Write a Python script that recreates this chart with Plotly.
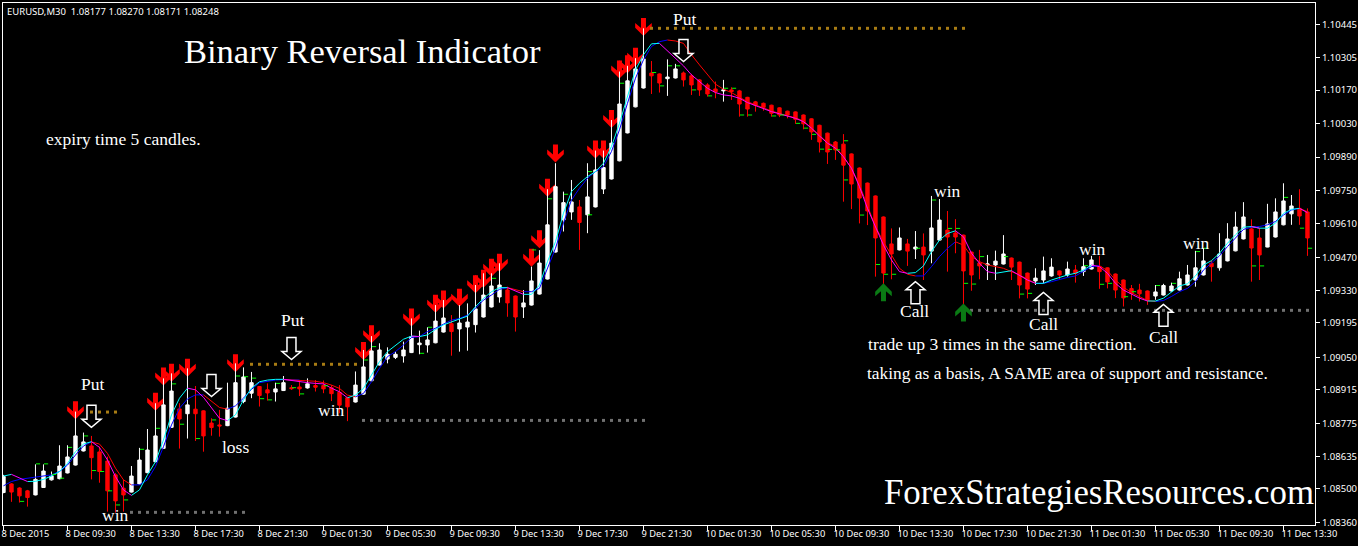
import plotly.graph_objects as go

# EURUSD M30 candles, prices
opens = [1.08485,1.08521,1.08504,1.08492,1.08475,1.08506,1.08538,1.08543,1.08567,1.08600,1.08659,1.08680,1.08655,1.08617,1.08559,1.08503,1.08487,1.08521,1.08568,1.08614,
1.08670,1.08758,1.08835,1.08815,1.08834,1.08827,1.08776,1.08768,1.08765,1.08801,1.08866,1.08901,1.08929,1.08915,1.08906,1.08912,1.08924,1.08927,1.08923,1.08933,
1.08933,1.08924,1.08905,1.08882,1.08864,1.08897,1.08953,1.09019,1.09044,1.09051,1.09057,1.09071,1.09104,1.09103,1.09112,1.09157,1.09192,1.09170,1.09178,1.09188,
1.09220,1.09262,1.09304,1.09333,1.09308,1.09262,1.09270,1.09316,1.09379,1.09492,1.09627,1.09660,1.09681,1.09648,1.09681,1.09756,1.09798,1.09874,1.09991,1.10100,
1.10179,1.10242,1.10238,1.10218,1.10221,1.10242,1.10230,1.10213,1.10192,1.10175,1.10167,1.10171,1.10167,1.10140,1.10121,1.10115,1.10107,1.10096,1.10082,1.10079,
1.10066,1.10050,1.10023,1.09990,1.09953,1.09944,1.09903,1.09844,1.09781,1.09727,1.09639,1.09526,1.09501,1.09526,1.09505,1.09513,1.09496,1.09542,1.09584,1.09572,
1.09563,1.09492,1.09446,1.09438,1.09438,1.09442,1.09467,1.09450,1.09404,1.09371,1.09375,1.09392,1.09413,1.09396,1.09417,1.09410,1.09421,1.09431,1.09426,1.09400,
1.09375,1.09339,1.09333,1.09329,1.09308,1.09312,1.09329,1.09333,1.09354,1.09375,1.09396,1.09445,1.09426,1.09455,1.09497,1.09547,1.09589,1.09551,1.09513,1.09555,
1.09606,1.09652,1.09675,1.09660]
highs = [1.08559,1.08524,1.08507,1.08496,1.08603,1.08603,1.08573,1.08683,1.08683,1.08824,1.08736,1.08722,1.08677,1.08635,1.08566,1.08538,1.08596,1.08672,1.08751,1.08859,
1.08963,1.08984,1.08859,1.09005,1.08931,1.08829,1.08796,1.08831,1.08945,1.09026,1.09009,1.08990,1.08931,1.08942,1.08945,1.08973,1.08935,1.08956,1.08963,1.08956,
1.08954,1.08935,1.08935,1.08886,1.08992,1.09082,1.09140,1.09110,1.09093,1.09075,1.09117,1.09214,1.09163,1.09177,1.09270,1.09291,1.09228,1.09270,1.09277,1.09354,
1.09403,1.09403,1.09445,1.09347,1.09310,1.09333,1.09431,1.09500,1.09755,1.09864,1.09745,1.09794,1.09710,1.09864,1.09917,1.09917,1.10045,1.10248,1.10272,1.10304,
1.10429,1.10292,1.10240,1.10299,1.10280,1.10248,1.10238,1.10216,1.10199,1.10206,1.10213,1.10182,1.10171,1.10142,1.10125,1.10118,1.10109,1.10098,1.10084,1.10081,
1.10068,1.10052,1.10025,1.09992,1.09957,1.09986,1.09905,1.09846,1.09783,1.09729,1.09641,1.09591,1.09595,1.09547,1.09580,1.09570,1.09727,1.09714,1.09664,1.09630,
1.09565,1.09494,1.09501,1.09480,1.09498,1.09563,1.09469,1.09452,1.09406,1.09424,1.09473,1.09466,1.09415,1.09452,1.09438,1.09466,1.09476,1.09476,1.09428,1.09402,
1.09377,1.09354,1.09359,1.09331,1.09354,1.09359,1.09364,1.09410,1.09438,1.09497,1.09508,1.09456,1.09571,1.09613,1.09661,1.09701,1.09629,1.09592,1.09694,1.09717,
1.09780,1.09731,1.09755,1.09675]
lows = [1.08482,1.08446,1.08443,1.08426,1.08473,1.08504,1.08535,1.08540,1.08565,1.08598,1.08657,1.08540,1.08526,1.08405,1.08401,1.08405,1.08485,1.08519,1.08566,1.08612,
1.08668,1.08756,1.08669,1.08711,1.08701,1.08656,1.08723,1.08719,1.08763,1.08799,1.08859,1.08880,1.08845,1.08870,1.08866,1.08910,1.08915,1.08889,1.08920,1.08908,
1.08901,1.08868,1.08817,1.08784,1.08862,1.08895,1.08951,1.09017,1.09026,1.09044,1.09029,1.09069,1.09064,1.09071,1.09110,1.09155,1.09058,1.09075,1.09079,1.09155,
1.09218,1.09260,1.09280,1.09221,1.09159,1.09216,1.09268,1.09314,1.09377,1.09490,1.09578,1.09627,1.09501,1.09571,1.09679,1.09735,1.09796,1.09872,1.09989,1.10098,
1.10177,1.10154,1.10160,1.10146,1.10219,1.10185,1.10150,1.10146,1.10143,1.10136,1.10122,1.10129,1.10059,1.10059,1.10080,1.10084,1.10059,1.10057,1.10052,1.10029,
1.10006,1.09962,1.09909,1.09861,1.09878,1.09703,1.09672,1.09612,1.09605,1.09389,1.09319,1.09378,1.09499,1.09434,1.09463,1.09375,1.09445,1.09540,1.09410,1.09487,
1.09207,1.09330,1.09378,1.09375,1.09375,1.09440,1.09375,1.09298,1.09298,1.09354,1.09361,1.09389,1.09375,1.09389,1.09364,1.09392,1.09419,1.09338,1.09340,1.09299,
1.09264,1.09292,1.09285,1.09271,1.09292,1.09310,1.09326,1.09331,1.09352,1.09347,1.09394,1.09368,1.09414,1.09453,1.09495,1.09545,1.09368,1.09375,1.09512,1.09553,
1.09604,1.09606,1.09606,1.09476]
closes = [1.08552,1.08487,1.08471,1.08464,1.08540,1.08575,1.08554,1.08596,1.08634,1.08722,1.08697,1.08631,1.08573,1.08492,1.08450,1.08475,1.08554,1.08621,1.08663,1.08722,
1.08852,1.08910,1.08793,1.08852,1.08815,1.08722,1.08757,1.08764,1.08838,1.08945,1.08969,1.08945,1.08891,1.08902,1.08919,1.08945,1.08920,1.08919,1.08940,1.08926,
1.08919,1.08899,1.08851,1.08844,1.08935,1.09011,1.09078,1.09082,1.09064,1.09064,1.09082,1.09138,1.09111,1.09124,1.09203,1.09216,1.09159,1.09195,1.09199,1.09254,
1.09312,1.09350,1.09354,1.09279,1.09220,1.09279,1.09371,1.09446,1.09606,1.09766,1.09699,1.09702,1.09616,1.09723,1.09836,1.09846,1.09948,1.10112,1.10209,1.10259,
1.10301,1.10230,1.10200,1.10225,1.10259,1.10213,1.10192,1.10171,1.10154,1.10163,1.10171,1.10164,1.10112,1.10091,1.10107,1.10098,1.10073,1.10066,1.10066,1.10048,
1.10029,1.09995,1.09953,1.09911,1.09920,1.09856,1.09777,1.09718,1.09664,1.09551,1.09404,1.09484,1.09551,1.09496,1.09513,1.09480,1.09593,1.09626,1.09555,1.09555,
1.09413,1.09396,1.09434,1.09442,1.09454,1.09484,1.09429,1.09354,1.09337,1.09383,1.09413,1.09429,1.09396,1.09421,1.09403,1.09431,1.09459,1.09410,1.09367,1.09333,
1.09300,1.09319,1.09317,1.09292,1.09325,1.09352,1.09350,1.09380,1.09396,1.09426,1.09455,1.09431,1.09484,1.09547,1.09597,1.09639,1.09509,1.09480,1.09610,1.09660,
1.09706,1.09685,1.09643,1.09551]

# Two smoothed indicator lines; colour follows direction
fast_line = [1.08554,1.08561,1.08547,1.08531,1.08532,1.08540,1.08554,1.08573,1.08607,1.08656,1.08688,1.08698,1.08674,1.08621,1.08552,1.08496,1.08473,1.08496,1.08559,1.08614,
1.08705,1.08810,1.08880,1.08922,1.08915,1.08884,1.08838,1.08796,1.08786,1.08810,1.08873,1.08922,1.08949,1.08956,1.08959,1.08959,1.08954,1.08948,1.08945,1.08942,
1.08940,1.08922,1.08907,1.08882,1.08893,1.08921,1.08977,1.09033,1.09075,1.09103,1.09127,1.09140,1.09138,1.09145,1.09168,1.09187,1.09200,1.09210,1.09224,1.09263,
1.09298,1.09326,1.09343,1.09343,1.09329,1.09315,1.09315,1.09354,1.09452,1.09535,1.09655,1.09745,1.09780,1.09808,1.09829,1.09864,1.09934,1.10031,1.10143,1.10255,
1.10318,1.10364,1.10366,1.10334,1.10304,1.10272,1.10234,1.10206,1.10178,1.10160,1.10150,1.10146,1.10136,1.10118,1.10105,1.10091,1.10080,1.10071,1.10061,1.10052,
1.10038,1.10011,1.09978,1.09948,1.09927,1.09891,1.09843,1.09766,1.09675,1.09598,1.09521,1.09459,1.09410,1.09403,1.09406,1.09434,1.09494,1.09542,1.09570,1.09581,
1.09556,1.09487,1.09445,1.09410,1.09403,1.09410,1.09414,1.09396,1.09375,1.09361,1.09361,1.09375,1.09386,1.09396,1.09403,1.09417,1.09438,1.09431,1.09403,1.09361,
1.09333,1.09317,1.09299,1.09287,1.09287,1.09299,1.09326,1.09350,1.09359,1.09392,1.09438,1.09456,1.09487,1.09529,1.09564,1.09596,1.09599,1.09592,1.09592,1.09613,
1.09654,1.09671,1.09675,1.09657]
slow_line = [1.08513,1.08531,1.08540,1.08545,1.08549,1.08552,1.08559,1.08573,1.08600,1.08642,1.08680,1.08697,1.08688,1.08649,1.08587,1.08538,1.08517,1.08517,1.08538,1.08594,
1.08677,1.08768,1.08838,1.08877,1.08894,1.08894,1.08866,1.08841,1.08834,1.08848,1.08880,1.08917,1.08945,1.08952,1.08956,1.08958,1.08956,1.08956,1.08954,1.08951,
1.08945,1.08935,1.08921,1.08893,1.08886,1.08900,1.08949,1.09005,1.09054,1.09075,1.09103,1.09134,1.09138,1.09159,1.09173,1.09191,1.09207,1.09214,1.09228,1.09256,
1.09291,1.09312,1.09336,1.09343,1.09336,1.09326,1.09326,1.09340,1.09424,1.09508,1.09613,1.09710,1.09759,1.09801,1.09829,1.09850,1.09913,1.10004,1.10115,1.10220,
1.10297,1.10353,1.10373,1.10380,1.10376,1.10366,1.10318,1.10276,1.10234,1.10195,1.10174,1.10160,1.10140,1.10122,1.10108,1.10094,1.10083,1.10072,1.10064,1.10054,
1.10041,1.10013,1.09981,1.09950,1.09934,1.09891,1.09843,1.09773,1.09682,1.09598,1.09535,1.09480,1.09424,1.09399,1.09392,1.09392,1.09431,1.09473,1.09508,1.09535,
1.09521,1.09473,1.09452,1.09438,1.09431,1.09424,1.09410,1.09396,1.09378,1.09361,1.09361,1.09368,1.09378,1.09386,1.09392,1.09410,1.09431,1.09435,1.09414,1.09375,
1.09345,1.09322,1.09306,1.09289,1.09285,1.09289,1.09306,1.09326,1.09340,1.09368,1.09417,1.09448,1.09476,1.09515,1.09550,1.09587,1.09596,1.09599,1.09606,1.09620,
1.09647,1.09668,1.09675,1.09661]

# Small green level marks
green_idx = [2,4,5,6,7,8,10,11,12,13,14,15,17,19,21,22,24,26,29,30,31,32,33,34,36,37,40,45,46,52,53,61,66,68,70,73,73,77,81,82,83,84,86,88,90,91,92,93,96,97,99,100,101,102,103,104,105,105,107,109,110,111,114,116,118,119,120,121,122,125,127,128,135,137,138,140,141,144,146,149,150,156,157,160,162,163]
green_val = [1.08448,1.08605,1.08605,1.08561,1.08545,1.08674,1.08722,1.08577,1.08573,1.08492,1.08433,1.08454,1.08666,1.08754,1.08940,1.08771,1.08711,1.08789,1.08973,1.08970,1.08964,1.08878,1.08873,1.08942,1.08924,1.08898,1.08932,1.09040,1.09096,1.09068,1.09177,1.09382,1.09501,1.09715,1.09734,1.09829,1.09648,1.10199,1.10244,1.10188,1.10272,1.10272,1.10171,1.10146,1.10178,1.10178,1.10066,1.10066,1.10062,1.10066,1.10031,1.10011,1.09985,1.09923,1.09922,1.09920,1.09958,1.09794,1.09647,1.09440,1.09399,1.09399,1.09508,1.09710,1.09591,1.09591,1.09361,1.09358,1.09473,1.09473,1.09316,1.09319,1.09435,1.09357,1.09361,1.09305,1.09326,1.09352,1.09361,1.09494,1.09508,1.09434,1.09434,1.09721,1.09592,1.09508]

# Signal arrows: candle index and price of the arrow tip
sell_idx = [9,19,20,21,23,29,45,46,51,54,55,57,59,60,61,62,66,67,68,69,74,75,76,77,78,79,80]
sell_val = [1.08792,1.08827,1.08933,1.08949,1.08970,1.08989,1.09040,1.09110,1.09180,1.09238,1.09256,1.09263,1.09319,1.09343,1.09389,1.09410,1.09431,1.09508,1.09724,1.09867,1.09884,1.09884,1.10012,1.10219,1.10241,1.10272,1.10397]
buy_idx = [110,120]
buy_val = [1.09361,1.09277]
put_idx = [11,26,36,85]
put_val = [1.08758,1.08887,1.09042,1.10290]
call_idx = [114,130,145]
call_val = [1.09368,1.09323,1.09273]

# Dotted levels: first candle, last candle, price, colour
level_start = [11,31,16,45,81,121]
level_end = [14,44,30,80,120,163]
level_val = [1.08822,1.09022,1.08402,1.08787,1.10429,1.09248]
level_color = ["#a87c14","#a87c14","#707070","#707070","#a87c14","#707070"]

y_ticks = [1.10445,1.10305,1.10170,1.10030,1.09890,1.09750,1.09610,1.09470,1.09330,1.09195,1.09050,1.08915,1.08775,1.08635,1.08500,1.08360]
x_tick_idx = [0,8,16,24,32,40,48,56,64,72,80,88,96,104,112,120,128,136,144,152,160]
x_tick_text = ["8 Dec 2015","8 Dec 09:30","8 Dec 13:30","8 Dec 17:30","8 Dec 21:30","9 Dec 01:30","9 Dec 05:30","9 Dec 09:30","9 Dec 13:30","9 Dec 17:30","9 Dec 21:30","10 Dec 01:30","10 Dec 05:30","10 Dec 09:30","10 Dec 13:30","10 Dec 17:30","10 Dec 21:30","11 Dec 01:30","11 Dec 05:30","11 Dec 09:30","11 Dec 13:30"]

W, H = 1358, 546
L, R, T, B = 3, 1315, 3, 525
SERIF = "Liberation Serif"
SANS = "Noto Sans"

n = len(opens)
idx = list(range(n))
fig = go.Figure()
fig.add_trace(go.Candlestick(
    x=idx, open=opens, high=highs, low=lows, close=closes, whiskerwidth=0,
    increasing=dict(line=dict(color="#ffffff", width=1), fillcolor="#ffffff"),
    decreasing=dict(line=dict(color="#ff0000", width=1), fillcolor="#ff0000"),
    showlegend=False, hoverinfo="skip"))


def direction_split(v):
    up, down = [None] * n, [None] * n
    for i in range(n):
        if (i > 0 and v[i] >= v[i - 1]) or (i < n - 1 and v[i + 1] >= v[i]):
            up[i] = v[i]
        if (i > 0 and v[i] < v[i - 1]) or (i < n - 1 and v[i + 1] < v[i]):
            down[i] = v[i]
    return up, down


for series, c_up, c_down in ((slow_line, "#0000ff", "#ff0000"), (fast_line, "#00ffff", "#ff00ff")):
    up, down = direction_split(series)
    for ys, c in ((up, c_up), (down, c_down)):
        fig.add_trace(go.Scatter(x=idx, y=ys, mode="lines", line=dict(color=c, width=1),
                                 showlegend=False, hoverinfo="skip"))

fig.add_trace(go.Scatter(x=[i + 0.32 for i in green_idx], y=green_val, mode="markers",
                         marker=dict(symbol="line-ew", size=3, line=dict(color="#00ff00", width=1)),
                         showlegend=False, hoverinfo="skip"))

for a, b, v, c in zip(level_start, level_end, level_val, level_color):
    xs = list(range(a, b + 1))
    fig.add_trace(go.Scatter(x=xs, y=[v] * len(xs), mode="markers",
                             marker=dict(symbol="square", size=3, color=c),
                             showlegend=False, hoverinfo="skip"))


def poly(pts):
    return "M" + " L".join(f"{x},{y}" for x, y in pts) + " Z"


SOLID = [(0, 0), (-8.3, 8.3), (-8.3, 13), (-2.5, 8), (-2.5, 18), (2.5, 18), (2.5, 8), (8.3, 13), (8.3, 8.3)]
HOLLOW = [(0, 0), (-9.5, 8), (-4.5, 8), (-4.5, 22), (4.5, 22), (4.5, 8), (9.5, 8)]
flip = lambda pts: [(x, -y) for x, y in pts]
shapes = []


def arrow(i, v, pts, fill, line, width, layer):
    shapes.append(dict(type="path", xref="x", yref="y", xsizemode="pixel", ysizemode="pixel",
                       xanchor=i, yanchor=v, path=poly(pts), fillcolor=fill,
                       line=dict(color=line, width=width), layer=layer))


for i, v in zip(sell_idx, sell_val):
    arrow(i, v, SOLID, "#ff0000", "#ff0000", 0, "below")
for i, v in zip(buy_idx, buy_val):
    arrow(i, v, flip(SOLID), "#0a7a14", "#0a7a14", 0, "above")
for i, v in zip(put_idx, put_val):
    arrow(i, v, HOLLOW, "rgba(0,0,0,0)", "#ffffff", 1.5, "above")
for i, v in zip(call_idx, call_val):
    arrow(i, v, flip(HOLLOW), "rgba(0,0,0,0)", "#ffffff", 1.5, "above")

# text: (string, x pixel, y pixel centre, size, anchor, font)
texts = [
    ("EURUSD,M30  1.08177 1.08270 1.08171 1.08248", 5, 11, 9.5, "left", SANS),
    ("Binary Reversal Indicator", 182, 51, 34.5, "left", SERIF),
    ("expiry time 5 candles.", 44, 139, 17.5, "left", SERIF),
    ("Put", 92, 384, 17.5, "center", SERIF),
    ("Put", 292, 320, 17.5, "center", SERIF),
    ("Put", 684, 19, 17.5, "center", SERIF),
    ("win", 116, 515, 17.5, "center", SERIF),
    ("loss", 235, 447, 17.5, "center", SERIF),
    ("win", 332, 410, 17.5, "center", SERIF),
    ("win", 948, 191, 17.5, "center", SERIF),
    ("Call", 915, 311, 17.5, "center", SERIF),
    ("Call", 1043, 324, 17.5, "center", SERIF),
    ("Call", 1163, 337, 17.5, "center", SERIF),
    ("win", 1092, 249, 17.5, "center", SERIF),
    ("win", 1196, 243, 17.5, "center", SERIF),
    ("trade up 3 times in the same direction.", 866, 344, 17.6, "left", SERIF),
    ("taking as a basis, A SAME area of support and resistance.", 865, 373, 17.4, "left", SERIF),
    ("ForexStrategiesResources.com", 882, 492, 34.8, "left", SERIF),
]
annotations = [dict(text=t, xref="paper", yref="paper", x=(x - L) / (R - L), y=(B - y) / (B - T),
                    xanchor=a, yanchor="middle", showarrow=False,
                    font=dict(family=f, size=s, color="#ffffff"))
               for t, x, y, s, a, f in texts]

fig.update_layout(
    width=W, height=H, autosize=False,
    margin=dict(l=L, r=W - R, t=T, b=H - B, pad=0, autoexpand=False),
    paper_bgcolor="#000000", plot_bgcolor="#000000",
    showlegend=False, hovermode=False, dragmode=False, boxgap=0.4,
    shapes=shapes, annotations=annotations,
    xaxis=dict(range=[-0.06, 163.94], rangeslider=dict(visible=False),
               tickmode="array", tickvals=x_tick_idx, ticktext=x_tick_text,
               ticklabelposition="outside right", ticklabelshift=-3, tickangle=0,
               ticks="outside", ticklen=5, tickwidth=1, tickcolor="#ffffff",
               showline=True, linecolor="#ffffff", linewidth=1, mirror=True,
               showgrid=False, zeroline=False,
               tickfont=dict(family=SANS, size=9.3, color="#ffffff")),
    yaxis=dict(range=[1.08349, 1.10535], side="right",
               tickmode="array", tickvals=y_ticks, ticktext=[f"{v:.5f}" for v in y_ticks],
               ticks="outside", ticklen=4, tickwidth=1, tickcolor="#ffffff",
               showline=True, linecolor="#ffffff", linewidth=1, mirror=True,
               showgrid=False, zeroline=False,
               tickfont=dict(family=SANS, size=9.5, color="#ffffff")),
)

fig.write_html("out.html", config=dict(displayModeBar=False),
               post_script="document.body.style.margin='0';document.body.style.overflow='hidden';")
